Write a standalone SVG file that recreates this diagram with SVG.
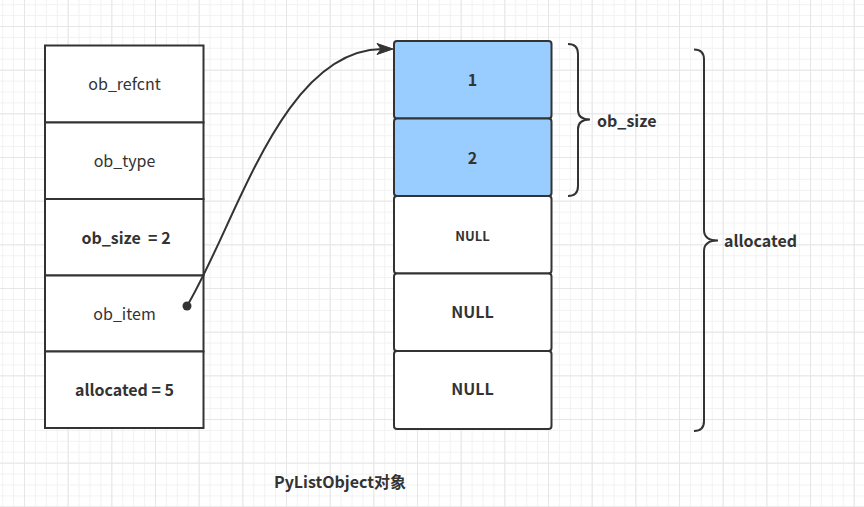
<svg xmlns="http://www.w3.org/2000/svg" width="864" height="507" viewBox="0 0 864 507">
<defs>
<pattern id="minor" patternUnits="userSpaceOnUse" x="24" y="26" width="10.917" height="10.917">
<path d="M0 0.5H10.917M0.5 0V10.917" fill="none" stroke="#f2f2f2" stroke-width="1"/>
</pattern>
<pattern id="major" patternUnits="userSpaceOnUse" x="24" y="26" width="43.667" height="43.667">
<path d="M0 0.5H43.667M0.5 0V43.667" fill="none" stroke="#e6e6e6" stroke-width="1"/>
</pattern>
<style>
.box{fill:#ffffff;stroke:#333333;stroke-width:2}
.blue{fill:#99ccff}
.t{font-family:"Noto Sans CJK SC","Noto Sans",sans-serif;font-size:16px;fill:#333333;text-anchor:middle}
.b{font-weight:bold}
.brace{fill:none;stroke:#333333;stroke-width:2}
</style>
</defs>
<rect width="864" height="507" fill="#ffffff"/>
<rect width="864" height="507" fill="url(#minor)"/>
<rect width="864" height="507" fill="url(#major)"/>

<g id="pylist-struct">
<g id="ob_refcnt"><rect class="box" x="45" y="45.5" width="158.5" height="77"/><text class="t" x="124.5" y="90">ob_refcnt</text></g>
<g id="ob_type"><rect class="box" x="45" y="122.5" width="158.5" height="76.5"/><text class="t" x="124.5" y="166.5">ob_type</text></g>
<g id="ob_size"><rect class="box" x="45" y="199" width="158.5" height="76.5"/><text class="t b" x="126" y="243.5" xml:space="preserve">ob_size  = 2</text></g>
<g id="ob_item"><rect class="box" x="45" y="275.5" width="158.5" height="76"/><text class="t" x="124.5" y="319.5">ob_item</text></g>
<g id="allocated_field"><rect class="box" x="45" y="351.5" width="158.5" height="76.5"/><text class="t b" x="124.5" y="396">allocated = 5</text></g>
</g>

<g id="items">
<g id="item1"><rect class="box blue" x="394" y="41" width="157.5" height="77.5" rx="3"/><text class="t b" x="472.5" y="86">1</text></g>
<g id="item2"><rect class="box blue" x="394" y="118.5" width="157.5" height="77.5" rx="3"/><text class="t b" x="472.5" y="164">2</text></g>
<g id="item3"><rect class="box" x="394" y="196" width="157.5" height="77.5" rx="3"/><text class="t b" x="472.5" y="241" style="font-size:13px">NULL</text></g>
<g id="item4"><rect class="box" x="394" y="273.5" width="157.5" height="77.5" rx="3"/><text class="t b" x="472.5" y="318">NULL</text></g>
<g id="item5"><rect class="box" x="394" y="351" width="157.5" height="78" rx="3"/><text class="t b" x="472.5" y="395">NULL</text></g>
</g>

<g id="ob_size_brace">
<path class="brace" d="M568 44Q578 44 578 54V110Q578 119.5 590 119.5Q578 119.5 578 129V186Q578 196 568 196"/>
<text class="t b" x="597" y="127" style="text-anchor:start">ob_size</text>
</g>

<g id="allocated_brace">
<path class="brace" d="M694 49.5Q704 49.5 704 59.5V230Q704 240.5 718 240.5Q704 240.5 704 251V421Q704 431 694 431"/>
<text class="t b" x="724" y="247" style="text-anchor:start">allocated</text>
</g>

<g id="connectors">
<path d="M187 306C237 222 282 50 382 49" fill="none" stroke="#333333" stroke-width="2"/>
<path d="M393 49L377 43.5L381 49L377 54.5Z" fill="#333333" stroke="#333333" stroke-width="1" stroke-linejoin="miter"/>
<circle cx="187" cy="306" r="4.5" fill="#333333"/>
</g>

<g id="title">
<text class="t b" x="340" y="488">PyListObject对象</text>
</g>
</svg>
